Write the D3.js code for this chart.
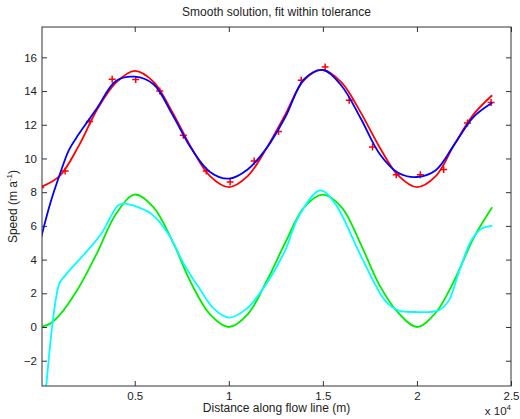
<!DOCTYPE html>
<html>
<head>
<meta charset="utf-8">
<script src="https://cdn.jsdelivr.net/npm/d3@7"></script>
<style>
  body { margin: 0; background: #fff; }
  text { font-family: "Liberation Sans", Arial, sans-serif; fill: #222; }
</style>
</head>
<body>
<div id="chart"></div>
<script>
// distance along flow line (m) and speeds (m/a)
const fitDistance = [0, 1000, 2000, 3000, 4000, 5000, 6000, 7000, 8000, 9000, 10000, 11000, 12000,
    13000, 14000, 15000, 16000, 17000, 18000, 19000, 20000, 21000, 22000, 23000, 24000];
const redFit = [8.3, 8.95, 10.7, 12.9, 14.5, 15.2, 14.55, 12.75, 10.65, 8.95, 8.3, 8.95, 10.6,
    12.6, 14.65, 15.25, 14.5, 12.75, 10.7, 9.0, 8.3, 8.95, 10.85, 12.6, 13.75];

const greenDistance = [0, 500, 1000, 2000, 3000, 4000, 5000, 6000, 7000, 8000, 9000, 10000, 11000, 12000,
    13000, 14000, 15000, 16000, 17000, 18000, 19000, 20000, 21000, 22000, 23000, 24000];
const greenSpeed = [0, 0.2, 0.7, 2.3, 4.4, 6.7, 7.86, 7.1, 5.1, 2.6, 0.75, 0, 0.75, 2.7,
    5.0, 7.1, 7.86, 7.1, 4.95, 2.5, 0.85, 0, 0.85, 2.8, 5.25, 7.1];

const blueDistance = [0, 500, 1000, 1500, 2000, 2500, 3000, 4000, 5000, 6000, 7000, 8000, 9000, 10000,
    11000, 12000, 13000, 14000, 15000, 16000, 17000, 18000, 19000, 20000, 21000, 22000, 23000, 24000];
const blueSpeed = [5.2, 7.3, 9.0, 10.5, 11.4, 12.2, 13.0, 14.6, 14.85, 14.4, 12.6, 10.6, 9.2, 8.8,
    9.35, 10.6, 12.45, 14.7, 15.25, 14.3, 12.4, 10.3, 9.15, 8.9, 9.3, 10.85, 12.45, 13.3];

const cyanDistance = [0, 300, 650, 1000, 1300, 1600, 2500, 3200, 4100, 4400, 5200, 5900, 6800, 7600,
    8500, 9200, 10000, 10950, 12000, 13000, 13700, 14850, 15650, 17050, 18300, 19000, 19900,
    21150, 21700, 22200, 22900, 23450, 24000];
const cyanSpeed = [-6.5, -3.4, 0.4, 2.6, 3.05, 3.45, 4.55, 5.5, 7.2, 7.32, 7.1, 6.7, 5.5, 3.76,
    2.18, 1.09, 0.56, 1.09, 2.57, 4.55, 6.53, 8.11, 7.32, 4.15, 1.58, 0.99, 0.89,
    0.99, 1.58, 3.17, 5.15, 5.84, 6.0];

// measured points (red +)
const obsDistance = [0, 1300, 2600, 3800, 5050, 6330, 7580, 8800, 10070, 11350, 12640, 13850,
    15120, 16400, 17640, 18900, 20180, 21420, 22690, 23940];
const obsSpeed = [8.28, 9.26, 12.2, 14.7, 14.68, 14.0, 11.38, 9.26, 8.6, 9.85, 11.6, 14.64,
    15.43, 13.45, 10.68, 9.04, 9.04, 9.34, 12.1, 13.32];

const xTicks = [5000, 10000, 15000, 20000, 25000];
const xTickLabels = ["0.5", "1", "1.5", "2", "2.5"];
const yTicks = [-2, 0, 2, 4, 6, 8, 10, 12, 14, 16];

const W = 520, H = 419;
const plot = { left: 42, right: 511, top: 27, bottom: 386 };

const svg = d3.select("#chart").append("svg")
    .attr("width", W)
    .attr("height", H);

svg.append("rect").attr("width", W).attr("height", H).attr("fill", "#fff");

const x = d3.scaleLinear().domain([70, 25000]).range([plot.left, plot.right]);
const y = d3.scaleLinear().domain([-3.5, 17.8]).range([plot.bottom, plot.top]);

svg.append("clipPath").attr("id", "clip")
    .append("rect")
    .attr("x", plot.left).attr("y", plot.top)
    .attr("width", plot.right - plot.left).attr("height", plot.bottom - plot.top);

const g = svg.append("g").attr("clip-path", "url(#clip)");

function drawLine(xs, ys, color) {
    const line = d3.line()
        .x((d, i) => x(xs[i]))
        .y(d => y(d))
        .curve(d3.curveCatmullRom.alpha(0.5));
    g.append("path")
        .datum(ys)
        .attr("d", line)
        .attr("fill", "none")
        .attr("stroke", color)
        .attr("stroke-width", 1.8)
        .attr("stroke-linejoin", "round");
}

drawLine(fitDistance, redFit, "#ff0000");

// red + markers
g.selectAll(".obs")
    .data(obsSpeed)
    .enter()
    .append("path")
    .attr("class", "obs")
    .attr("transform", (d, i) => `translate(${x(obsDistance[i])},${y(d)})`)
    .attr("d", "M-3.5,0H3.5M0,-3.5V3.5")
    .attr("stroke", "#ff0000")
    .attr("stroke-width", 1.5);

drawLine(blueDistance, blueSpeed, "#0000ff");
drawLine(greenDistance, greenSpeed, "#00ee00");
drawLine(cyanDistance, cyanSpeed, "#00ffff");

// axes, ticks pointing inwards on all four sides
const axisColor = "#333";
const tickFont = "11.5px";

const bottomAxis = svg.append("g")
    .attr("transform", `translate(0,${plot.bottom})`)
    .call(d3.axisBottom(x).tickValues(xTicks)
        .tickFormat((d, i) => xTickLabels[i])
        .tickSizeInner(-5).tickSizeOuter(0).tickPadding(6));

const leftAxis = svg.append("g")
    .attr("transform", `translate(${plot.left},0)`)
    .call(d3.axisLeft(y).tickValues(yTicks)
        .tickSizeInner(-5).tickSizeOuter(0).tickPadding(5));

const topAxis = svg.append("g")
    .attr("transform", `translate(0,${plot.top})`)
    .call(d3.axisTop(x).tickValues(xTicks).tickFormat("")
        .tickSizeInner(-5).tickSizeOuter(0));

const rightAxis = svg.append("g")
    .attr("transform", `translate(${plot.right},0)`)
    .call(d3.axisRight(y).tickValues(yTicks).tickFormat("")
        .tickSizeInner(-5).tickSizeOuter(0));

[bottomAxis, leftAxis, topAxis, rightAxis].forEach(a => {
    a.select(".domain").remove();
    a.selectAll("line").attr("stroke", axisColor);
    a.selectAll("text")
        .style("font-size", tickFont)
        .style("font-family", "'Liberation Sans', Arial, sans-serif")
        .attr("fill", "#222");
});

svg.append("rect")
    .attr("x", plot.left).attr("y", plot.top)
    .attr("width", plot.right - plot.left).attr("height", plot.bottom - plot.top)
    .attr("fill", "none")
    .attr("stroke", axisColor)
    .attr("stroke-width", 1);

// title and labels
svg.append("text")
    .attr("x", (plot.left + plot.right) / 2)
    .attr("y", 16)
    .attr("text-anchor", "middle")
    .style("font-size", "12px")
    .text("Smooth solution, fit within tolerance");

svg.append("text")
    .attr("x", (plot.left + plot.right) / 2)
    .attr("y", 412)
    .attr("text-anchor", "middle")
    .style("font-size", "12px")
    .text("Distance along flow line (m)");

const yLabel = svg.append("text")
    .attr("transform", `translate(17,${(plot.top + plot.bottom) / 2}) rotate(-90)`)
    .attr("text-anchor", "middle")
    .style("font-size", "12px");
yLabel.append("tspan").text("Speed (m a");
yLabel.append("tspan").attr("dy", -5).style("font-size", "8px").text("-1");
yLabel.append("tspan").attr("dy", 5).text(")");

const mult = svg.append("text")
    .attr("x", 511)
    .attr("y", 415)
    .attr("text-anchor", "end")
    .style("font-size", "11.5px");
mult.append("tspan").text("x 10");
mult.append("tspan").attr("dy", -5).style("font-size", "8px").text("4");
</script>
</body>
</html>
